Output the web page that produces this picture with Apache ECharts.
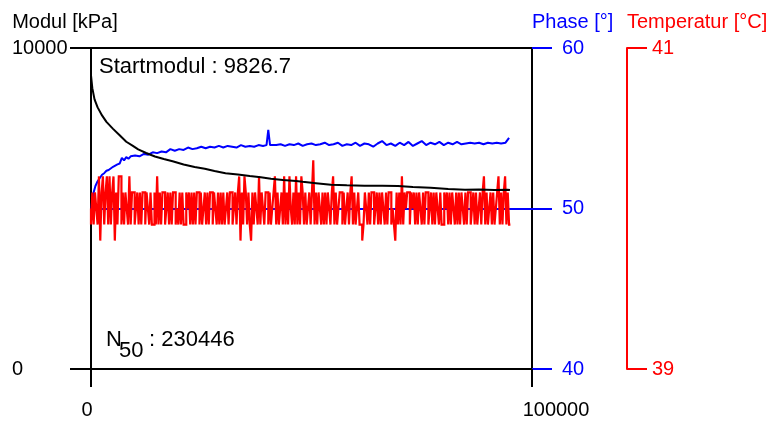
<!DOCTYPE html>
<html>
<head>
<meta charset="utf-8">
<script src="https://cdn.jsdelivr.net/npm/echarts@6/dist/echarts.min.js"></script>
<style>
html,body{margin:0;padding:0;background:#fff;}
#chart{width:773px;height:426px;}
</style>
</head>
<body>
<div id="chart"></div>
<script>
// ---- data ----
var xTicks = [0, 100000];
var modulTicks = [0, 10000];
var phaseTicks = [40, 50, 60];
var tempTicks = [39, 41];

var modulX = [0,300,800,1500,2500,3500,5000,6500,8000,9500,10700,12500,14500,16500,18500,21000,23500,25800,28000,30500,33300,36000,38500,40800,43500,46500,48000,51000,54400,58000,62000,66000,69600,73000,77000,81000,84800,88000,91500,94500,95000];
var modulY = [9150,8750,8400,8150,7900,7700,7480,7280,7080,6950,6840,6730,6620,6540,6470,6370,6290,6240,6170,6100,6060,6010,5970,5930,5890,5860,5835,5790,5740,5725,5710,5705,5700,5670,5645,5610,5585,5590,5580,5585,5580];

var phaseX = [0,200,500,1000,1500,2000,2500,3000,3500,4000,5000,6000,6500,7000,7500,8000,8500,9000,10000,11000,12000,13000,14000,15000,16000,17000,18000,19000,20000,21000,22000,23000,24000,25000,26000,27000,28000,29000,30000,31000,32000,33000,34000,35000,36000,37000,38000,39000,39800,40200,40600,41000,42000,43000,44000,45000,46000,47000,48000,49000,50000,51000,52000,53000,54000,55000,56000,57000,58000,59000,60000,61000,62000,63000,64000,65000,66000,67000,68000,69000,70000,71000,72000,73000,74000,75000,76000,77000,78000,79000,80000,81000,82000,83000,84000,85000,86000,87000,88000,89000,90000,91000,92000,93000,94000,94800];
var phaseY = [49.6,50.3,50.9,51.4,51.7,51.9,52.1,52.2,52.35,52.4,52.6,52.75,52.8,53.15,53.0,53.2,53.1,53.25,53.3,53.25,53.4,53.35,53.5,53.45,53.55,53.5,53.7,53.6,53.7,53.65,53.8,53.7,53.75,53.85,53.75,53.85,53.8,53.9,53.8,53.9,53.85,53.8,53.95,53.85,53.9,53.85,53.95,53.9,53.95,54.9,53.95,54.05,53.95,54.0,53.9,54.0,53.95,54.05,53.9,54.0,54.05,53.95,54.0,54.1,53.95,54.0,54.1,53.9,54.0,53.95,54.1,53.9,54.05,54.0,53.85,54.05,54.2,53.95,54.05,53.9,54.1,53.95,54.15,53.9,54.05,54.2,53.95,54.1,54.0,54.15,53.95,54.1,54.0,54.15,54.0,54.05,54.1,54.05,54.1,54.0,54.1,54.05,54.1,54.05,54.1,54.4];

var tempSampleStep = 300; // cycles between temperature samples
var tempValues = [
40.0,39.9,40.1,39.9,40.1,40.0,39.9,40.2,39.8,40.1,40.2,39.9,40.1,40.2,39.9,40.2,39.9,40.1,40.2,39.8,
40.1,39.9,40.2,40.2,39.9,40.1,39.9,40.1,40.0,39.9,40.2,39.9,40.1,40.1,39.9,40.0,40.1,39.9,40.1,39.9,
40.1,40.1,39.9,40.1,40.0,39.9,40.1,39.9,39.9,40.1,39.9,40.2,39.9,40.1,39.9,40.1,40.1,39.9,40.0,40.1,
39.9,40.1,39.9,40.1,40.1,39.9,40.0,39.9,40.1,39.9,40.1,39.9,39.9,40.1,40.0,40.1,39.9,40.1,39.9,40.1,
39.9,40.1,40.1,39.9,40.1,39.9,40.0,40.1,39.9,40.1,39.9,40.1,40.1,39.9,40.1,40.0,39.9,40.1,39.9,40.1,
39.9,40.1,39.9,40.0,40.1,39.9,40.1,40.1,39.9,40.0,40.1,39.9,40.1,40.2,39.8,40.1,39.9,40.2,40.1,39.9,
40.1,39.9,39.8,40.1,39.9,40.1,40.0,39.9,40.2,39.9,40.1,40.0,39.9,40.1,40.1,39.9,40.1,39.9,40.0,40.1,
40.2,39.9,40.1,39.9,40.0,40.1,39.9,40.2,39.9,40.1,39.9,40.2,40.0,39.9,40.1,39.9,40.2,39.9,40.1,39.9,
40.2,40.1,39.9,40.1,39.9,40.0,40.1,39.9,40.1,40.3,39.9,40.1,39.9,40.1,40.0,39.9,40.1,39.9,40.1,39.9,
40.1,40.0,39.9,40.1,40.2,39.9,40.1,39.9,40.0,40.1,40.1,39.9,40.1,39.9,40.0,40.1,39.9,40.1,40.2,39.9,
40.1,39.9,40.0,40.1,39.9,39.9,39.8,39.9,40.1,40.0,39.9,40.1,39.9,40.1,40.1,39.9,40.0,40.1,39.9,40.1,
39.9,40.1,40.0,39.9,40.1,39.9,40.1,40.1,39.9,40.0,39.9,39.8,40.1,39.9,40.1,39.9,40.2,39.9,40.1,40.0,
40.1,40.1,39.9,40.1,40.0,40.1,39.9,40.1,39.9,40.1,40.0,39.9,40.1,39.9,40.1,40.1,39.9,40.0,40.1,39.9,
40.1,39.9,40.1,40.0,39.9,40.1,39.9,39.9,40.1,40.0,40.1,39.9,40.1,39.9,40.1,40.0,39.9,40.1,39.9,40.1,
39.9,40.1,40.0,39.9,40.1,39.9,40.1,40.1,39.9,40.0,40.1,39.9,40.1,39.9,40.0,40.1,39.9,40.1,40.2,39.9,
40.1,39.9,40.0,40.1,39.9,40.1,39.9,40.0,40.1,40.2,39.9,40.1,39.9,40.1,40.2,39.9,40.1,39.9
];

var startModulText = 'Startmodul : 9826.7';
var n50Value = '230446';

// ---- build series data ----
function zip(xs, ys) { var out = []; for (var i = 0; i < xs.length; i++) out.push([xs[i], ys[i]]); return out; }
var modulData = zip(modulX, modulY);
var phaseData = zip(phaseX, phaseY);
var tempData = tempValues.map(function (v, i) { return [i * tempSampleStep, v]; });

var FONT = 'Liberation Sans, Arial, sans-serif';
var BLUE = '#0000ff', RED = '#ff0000', BLACK = '#000000';
function plain(v) { return String(v); }

var chart = echarts.init(document.getElementById('chart'), null, {renderer: 'canvas'});
chart.setOption({
  animation: false,
  backgroundColor: '#ffffff',
  grid: {
    left: 91, right: 241, top: 48, bottom: 57,
    containLabel: false, outerBoundsMode: 'none',
    show: true, borderColor: BLACK, borderWidth: 2, backgroundColor: 'transparent'
  },
  xAxis: {
    type: 'value', min: xTicks[0], max: xTicks[1], interval: xTicks[1] - xTicks[0],
    axisLine: {show: true, lineStyle: {color: BLACK, width: 2}},
    axisTick: {show: true, length: 18, lineStyle: {color: BLACK, width: 2}},
    splitLine: {show: false},
    axisLabel: {
      margin: 31, color: BLACK, fontFamily: FONT, fontSize: 20,
      formatter: function (v) { return v === xTicks[0] ? '{a|' + v + '}' : '{b|' + v + '}'; },
      rich: {
        a: {fontFamily: FONT, fontSize: 20, color: BLACK, padding: [0, 8, 0, 0]},
        b: {fontFamily: FONT, fontSize: 20, color: BLACK, padding: [0, 0, 0, 48]}
      }
    }
  },
  yAxis: [
    {
      type: 'value', min: modulTicks[0], max: modulTicks[1], interval: modulTicks[1] - modulTicks[0],
      position: 'left',
      name: 'Modul [kPa]', nameLocation: 'end', nameGap: 26,
      nameTextStyle: {color: BLACK, fontFamily: FONT, fontSize: 20, align: 'center', verticalAlign: 'middle', padding: [0, 52, 0, 0]},
      axisLine: {show: true, lineStyle: {color: BLACK, width: 2}},
      axisTick: {show: true, length: 21, lineStyle: {color: BLACK, width: 2}},
      splitLine: {show: false},
      axisLabel: {margin: 79, align: 'left', color: BLACK, fontFamily: FONT, fontSize: 20, padding: [5, 0, 0, 0], formatter: plain}
    },
    {
      type: 'value', min: phaseTicks[0], max: phaseTicks[2], interval: phaseTicks[1] - phaseTicks[0],
      position: 'right', offset: 0,
      name: 'Phase [°]', nameLocation: 'end', nameGap: 26,
      nameTextStyle: {color: BLUE, fontFamily: FONT, fontSize: 20, align: 'left', verticalAlign: 'middle'},
      axisLine: {show: false},
      axisTick: {show: true, length: 20, lineStyle: {color: BLUE, width: 2}},
      splitLine: {show: false},
      axisLabel: {margin: 30, align: 'left', color: BLUE, fontFamily: FONT, fontSize: 20, padding: [5, 0, 0, 0], formatter: plain}
    },
    {
      type: 'value', min: tempTicks[0], max: tempTicks[1], interval: tempTicks[1] - tempTicks[0],
      position: 'right', offset: 95,
      name: 'Temperatur [°C]', nameLocation: 'end', nameGap: 26,
      nameTextStyle: {color: RED, fontFamily: FONT, fontSize: 20, align: 'left', verticalAlign: 'middle'},
      axisLine: {show: true, lineStyle: {color: RED, width: 2}},
      axisTick: {show: true, length: 20, lineStyle: {color: RED, width: 2}},
      splitLine: {show: false},
      axisLabel: {margin: 25, align: 'left', color: RED, fontFamily: FONT, fontSize: 20, padding: [5, 0, 0, 0], formatter: plain}
    }
  ],
  series: [
    {
      name: 'Phase', type: 'line', yAxisIndex: 1, data: phaseData,
      showSymbol: false, symbol: 'none', sampling: 'none', z: 2,
      lineStyle: {color: BLUE, width: 2},
      markLine: {
        silent: true, symbol: 'none', label: {show: false}, z: 1,
        lineStyle: {color: BLUE, width: 2, type: 'solid'},
        data: [{yAxis: phaseTicks[1]}]
      }
    },
    {
      name: 'Temperatur', type: 'line', yAxisIndex: 2, data: tempData,
      showSymbol: false, symbol: 'none', sampling: 'none', z: 3, step: 'start',
      lineStyle: {color: RED, width: 2.2, join: 'miter', cap: 'butt'}
    },
    {
      name: 'Modul', type: 'line', yAxisIndex: 0, data: modulData,
      showSymbol: false, symbol: 'none', sampling: 'none', z: 4,
      lineStyle: {color: BLACK, width: 2}
    }
  ],
  graphic: [
    {type: 'text', left: 99, top: 56, z: 10, style: {text: startModulText, fill: BLACK, font: '22px ' + FONT}},
    {type: 'text', left: 106, top: 329, z: 10, style: {text: 'N', fill: BLACK, font: '22px ' + FONT}},
    {type: 'text', left: 119, top: 340, z: 10, style: {text: '50', fill: BLACK, font: '22px ' + FONT}},
    {type: 'text', left: 149, top: 329, z: 10, style: {text: ': ' + n50Value, fill: BLACK, font: '22px ' + FONT}}
  ]
});
</script>
</body>
</html>
